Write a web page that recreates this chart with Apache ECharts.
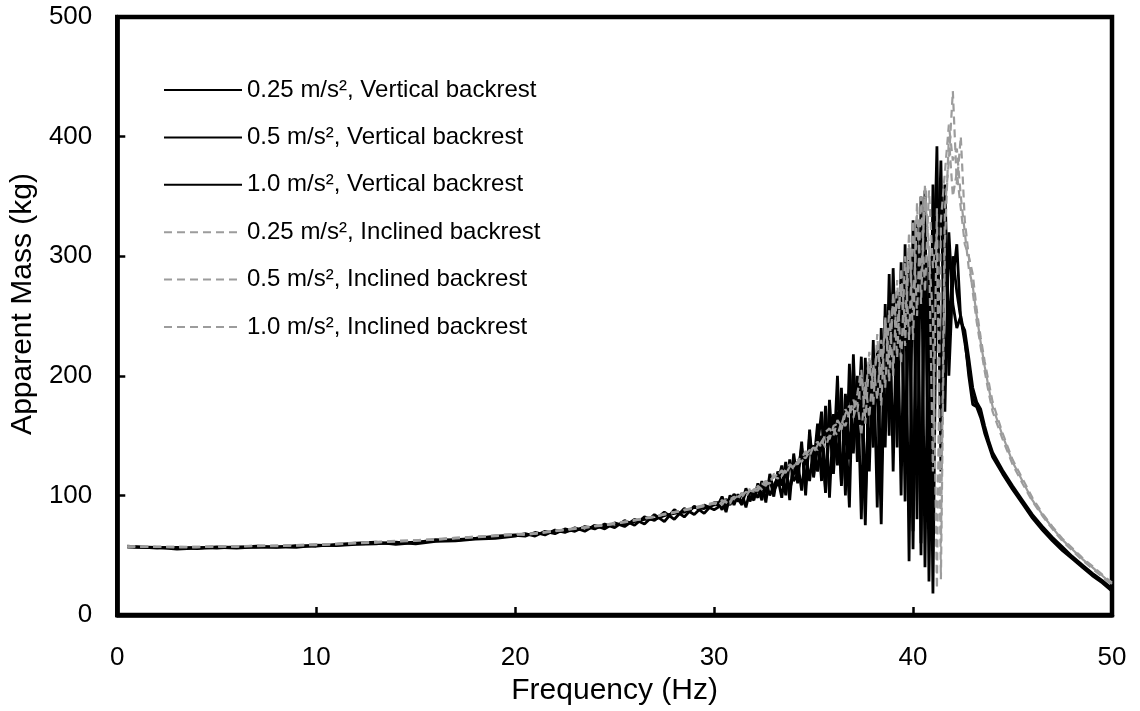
<!DOCTYPE html>
<html>
<head>
<meta charset="utf-8">
<script src="https://cdn.jsdelivr.net/npm/echarts@6/dist/echarts.min.js"></script>
<style>
html,body{margin:0;padding:0;background:#fff;}
#chart{width:1140px;height:711px;}
</style>
</head>
<body>
<div id="chart"></div>
<script>
// Frequency (Hz)
const freq = [
  0.5,1,2,3,4,5,6,7,8,9,10,11,12,13,14,15,16,17,18,19,20,
  20.5,21,21.5,22,22.5,23,23.5,24,24.5,25,25.5,26,26.5,27,27.5,28,28.5,29,29.5,30,
  30.2,30.4,30.6,30.8,31,
  31.2,31.4,31.6,31.8,32,
  32.2,32.4,32.6,32.8,33,
  33.2,33.4,33.6,33.8,34,
  34.2,34.4,34.6,34.8,35,
  35.2,35.4,35.6,35.8,36,
  36.2,36.4,36.6,36.8,37,
  37.2,37.4,37.6,37.8,38,
  38.2,38.4,38.6,38.8,39,
  39.2,39.4,39.6,39.8,40,
  40.2,40.4,40.6,40.8,41,
  41.2,41.4,41.6,41.8,42,
  42.2,42.4,42.6,42.8,43,
  43.2,43.4,43.6,43.8,44,
  44.5,45,45.5,46,46.5,47,47.5,48,48.5,49,49.5,50
];

const vert025 = [
  57,57,56.5,56,56.5,56,57,56.5,57,57.5,58,58.5,59.5,60,60,61,62,63,64,65,66.5,
  66,69,67,71,69,73,70,75,72,77,74,80,76,84,78,88,82,91,85,94,
  94,88,97,92,99,
  95,102,90,104,98,
  106,96,112,100,108,
  115,98,122,105,118,
  128,104,135,112,142,
  120,150,102,160,118,
  170,108,185,130,205,
  150,216,95,198,140,
  222,110,260,150,290,
  180,275,130,300,55,
  330,60,355,28,250,
  392,120,340,200,280,
  310,245,238,215,190,
  178,172,158,146,136,
  121,108,96,84,74,65,57,49,42,35,29,22
];
const vert05 = [
  57.5,57,56,56.5,55.5,56.5,56,57,57,56.5,58.5,58,59,59.5,61,59.5,61.5,62,63.5,64,66,
  68,66,70,68,72,70,74,72,76,73,79,75,82,79,86,80,89,84,92,88,
  90,96,86,100,92,
  101,93,106,95,103,
  98,112,94,118,104,
  110,125,100,130,112,
  118,140,108,150,125,
  160,112,175,98,168,
  125,190,100,210,135,
  200,80,215,120,230,
  90,240,140,285,120,
  270,100,310,45,330,
  80,350,40,300,18,
  330,150,360,230,300,
  270,248,228,205,182,
  175,168,155,144,134,
  119,106,94,82,72,63,55,48,41,34,28,21
];
const vert10 = [
  57,56.5,56.5,55,56,57,56.5,57.5,56.5,58,57.5,59,60,61,59,60.5,63,62.5,64,66,67,
  67,68,68,70,70,71,73,73,74,76,76,78,80,80,83,85,86,90,89,92,
  92,99,90,95,101,
  97,92,104,99,96,
  110,100,104,114,99,
  120,108,128,96,135,
  110,145,100,155,115,
  140,170,105,180,128,
  200,110,165,90,218,
  128,180,75,210,160,
  200,76,250,180,270,
  140,295,95,285,70,
  310,50,320,90,360,
  260,380,170,320,260,
  240,250,232,200,176,
  174,165,152,142,132,
  118,105,93,81,71,62,54,47,40,33,27,20
];
const incl025 = [
  57.5,57.5,57,57,57,57.5,57.5,58,58,58.5,59,59.5,60.5,61,61.5,62.5,63.5,64.5,65.5,66.5,67.5,
  68,68.5,69.5,70.5,71.5,72.5,73.5,74.5,75.5,77,78,79.5,81,82.5,84.5,86,88,90,92,94,
  93,96,94,98,97,
  100,99,103,102,105,
  106,110,108,113,115,
  118,116,122,125,124,
  130,128,134,138,136,
  142,146,140,150,155,
  150,162,158,170,165,
  178,150,195,165,210,
  180,230,190,255,200,
  280,210,300,230,330,
  250,350,270,355,290,
  320,60,340,380,438,
  360,400,330,300,285,
  255,232,212,195,178,
  152,130,114,98,85,74,64,56,48,41,34,27
];
const incl05 = [
  57,57,57,56.5,57,57,57.5,57.5,58,58,58.5,59,60,60.5,61.5,62,63,64,65,66,67,
  67.5,68,69,70,71,72,73,74,75,76.5,77.5,79,80.5,82,84,86,87.5,89.5,91.5,93,
  95,92,97,95,99,
  97,102,100,104,103,
  108,105,111,110,116,
  114,120,119,126,122,
  128,133,131,137,140,
  138,145,150,147,158,
  160,155,168,175,170,
  185,205,160,215,175,
  235,175,250,195,270,
  215,290,240,320,230,
  345,260,360,300,250,
  22,330,370,410,380,
  390,350,320,290,275,
  250,228,208,190,174,
  150,128,112,96,84,73,63,55,47,40,33,26
];
const incl10 = [
  57.5,57,57,57,56.5,57.5,57,58,57.5,58.5,59,59.5,60,61,62,62.5,63,64.5,65.5,66.5,68,
  67,68,69,70.5,71,72.5,73,74.5,75,76,78,79,81,82,84,85.5,88,89,91,93.5,
  91,95,96,93,100,
  99,101,98,106,104,
  104,109,112,109,118,
  117,121,118,124,128,
  126,131,137,133,141,
  145,140,153,156,150,
  163,158,172,166,180,
  170,200,180,220,190,
  225,200,245,215,265,
  240,275,225,310,255,
  335,280,350,310,120,
  340,30,310,400,350,
  370,340,310,300,270,
  245,224,204,186,170,
  147,126,110,95,83,72,62,54,46,39,32,25
];

const seriesNames = [
  '0.25 m/s\u00B2, Vertical backrest',
  '0.5 m/s\u00B2, Vertical backrest',
  '1.0 m/s\u00B2, Vertical backrest',
  '0.25 m/s\u00B2, Inclined backrest',
  '0.5 m/s\u00B2, Inclined backrest',
  '1.0 m/s\u00B2, Inclined backrest'
];
const seriesValues = [vert025, vert05, vert10, incl025, incl05, incl10];
const xTicks = [0, 10, 20, 30, 40, 50];
const yTicks = [0, 100, 200, 300, 400, 500];

const FONT = '"Liberation Sans", Arial, Helvetica, sans-serif';
const chart = echarts.init(document.getElementById('chart'), null, {renderer: 'canvas'});

const series = seriesValues.map((vals, k) => {
  const inclined = k >= 3;
  return {
    name: seriesNames[k],
    type: 'line',
    symbol: 'none',
    showSymbol: false,
    animation: false,
    z: inclined ? 3 : 2,
    lineStyle: inclined
      ? {color: '#9c9c9c', width: 2.2, type: [8, 5]}
      : {color: '#000', width: 2.8, type: 'solid'},
    itemStyle: {color: inclined ? '#9c9c9c' : '#000'},
    data: freq.map((f, i) => [f, vals[i]])
  };
});

chart.setOption({
  animation: false,
  backgroundColor: '#fff',
  textStyle: {fontFamily: FONT},
  grid: {
    left: 116, top: 17, width: 996, height: 598,
    show: true, borderColor: '#000', borderWidth: 4.5, backgroundColor: 'transparent'
  },
  legend: {
    orient: 'vertical',
    left: 163, top: 78, padding: 0,
    itemWidth: 78, itemHeight: 20, itemGap: 23.4,
    itemStyle: {color: 'transparent', borderColor: 'transparent', borderWidth: 0, opacity: 0},
    lineStyle: {width: 2},
    textStyle: {fontFamily: FONT, fontSize: 24, color: '#000', lineHeight: 21},
    data: seriesNames,
    selectedMode: false
  },
  xAxis: {
    type: 'value', min: xTicks[0], max: xTicks[xTicks.length - 1], interval: 10,
    name: 'Frequency (Hz)', nameLocation: 'middle', nameGap: 58,
    nameTextStyle: {fontFamily: FONT, fontSize: 30, color: '#000'},
    axisLine: {show: true, lineStyle: {color: '#000', width: 4.5}},
    axisTick: {show: true, inside: true, length: 8, lineStyle: {color: '#000', width: 2.5}},
    axisLabel: {fontFamily: FONT, fontSize: 26, color: '#000', margin: 30},
    splitLine: {show: false}
  },
  yAxis: {
    type: 'value', min: yTicks[0], max: yTicks[yTicks.length - 1], interval: 100,
    name: 'Apparent Mass (kg)', nameLocation: 'middle', nameGap: 72,
    nameTextStyle: {fontFamily: FONT, fontSize: 30, color: '#000', padding: [0, 0, 0, 24]},
    axisLine: {show: true, lineStyle: {color: '#000', width: 4.5}},
    axisTick: {show: true, inside: true, length: 8, lineStyle: {color: '#000', width: 2.5}},
    axisLabel: {fontFamily: FONT, fontSize: 26, color: '#000', margin: 25},
    splitLine: {show: false}
  },
  series: series
});
</script>
</body>
</html>
